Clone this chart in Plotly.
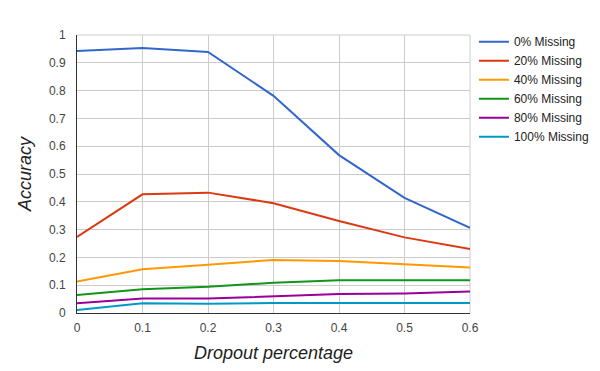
import plotly.graph_objects as go

dropout = [0, 0.1, 0.2, 0.3, 0.4, 0.5, 0.6]
series_names = ["0% Missing", "20% Missing", "40% Missing", "60% Missing", "80% Missing", "100% Missing"]
acc_0 = [0.942, 0.953, 0.939, 0.781, 0.568, 0.414, 0.306]
acc_20 = [0.274, 0.427, 0.433, 0.395, 0.331, 0.272, 0.230]
acc_40 = [0.113, 0.157, 0.174, 0.191, 0.187, 0.176, 0.164]
acc_60 = [0.065, 0.085, 0.094, 0.109, 0.118, 0.118, 0.118]
acc_80 = [0.035, 0.052, 0.052, 0.061, 0.068, 0.070, 0.077]
acc_100 = [0.011, 0.035, 0.033, 0.036, 0.036, 0.036, 0.036]
x_tick_labels = ["0", "0.1", "0.2", "0.3", "0.4", "0.5", "0.6"]
colors = ["#3366cc", "#dc3912", "#ff9900", "#109618", "#990099", "#0099c6"]

all_series = [acc_0, acc_20, acc_40, acc_60, acc_80, acc_100]

fig = go.Figure()
for name, vals, col in zip(series_names, all_series, colors):
    fig.add_trace(go.Scatter(x=dropout, y=vals, mode="lines", name=name,
                             line=dict(color=col, width=2)))

FONT = "Liberation Sans"
fig.update_layout(
    width=600, height=371,
    # page body has an 8px margin; compensate so the plot area sits at 77..470 x 35..313
    margin=dict(l=69, r=138, t=27, b=66, autoexpand=False),
    paper_bgcolor="white", plot_bgcolor="white",
    font=dict(family=FONT, size=12, color="#444"),
    showlegend=True,
    legend=dict(x=1.01, y=1.028, xanchor="left", yanchor="top",
                font=dict(family=FONT, size=12, color="#222"), tracegroupgap=0,
                bgcolor="rgba(0,0,0,0)"),
    xaxis=dict(range=[0, 0.6], tickvals=dropout, ticktext=x_tick_labels,
               showgrid=True, gridcolor="#cccccc", gridwidth=1,
               showline=True, linecolor="#333333", linewidth=1, zeroline=False,
               ticks="outside", ticklen=4, tickcolor="rgba(0,0,0,0)",
               tickfont=dict(family=FONT, size=12, color="#444"),
               automargin=False,
               title=dict(text="Dropout percentage", font=dict(family=FONT, size=18, color="#222", style="italic"), standoff=11),
               fixedrange=True),
    yaxis=dict(range=[0, 1], dtick=0.1, tick0=0,
               showgrid=True, gridcolor="#cccccc", gridwidth=1,
               showline=True, linecolor="#333333", linewidth=1, zeroline=False,
               ticks="outside", ticklen=8, tickcolor="rgba(0,0,0,0)",
               tickfont=dict(family=FONT, size=12, color="#444"),
               automargin=False,
               title=dict(text="Accuracy", font=dict(family=FONT, size=18, color="#222", style="italic"), standoff=12),
               fixedrange=True),
)
fig.add_shape(type="line", xref="paper", yref="paper", x0=1, x1=1, y0=0, y1=1,
              line=dict(color="#cccccc", width=1), layer="below")
fig.add_shape(type="line", xref="paper", yref="paper", x0=0, x1=1, y0=1, y1=1,
              line=dict(color="#cccccc", width=1), layer="below")

fig.write_html("out.html")
